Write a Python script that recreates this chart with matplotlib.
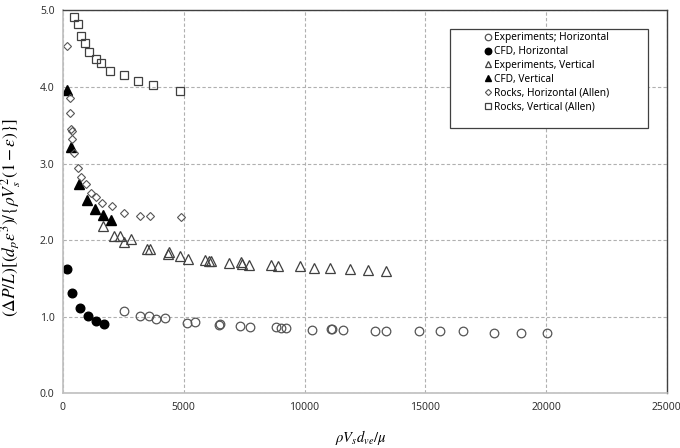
import numpy as np
import matplotlib
matplotlib.use("Agg")
import matplotlib.pyplot as plt
from matplotlib.patches import Rectangle

plt.rcParams['font.family'] = ['Noto Sans', 'DejaVu Sans']
plt.rcParams['mathtext.fontset'] = 'stix'

# Experiments; Horizontal
expH_x = [2526, 3176, 3561, 3838, 4224, 5147, 5466, 6447, 6514, 7342, 7756, 8807, 9039, 9234,
          10311, 11085, 11126, 11582, 12932, 13387, 14754, 15598, 16576, 17860, 18952, 20054]
expH_y = [1.07, 1.015, 1.015, 0.97, 0.99, 0.92, 0.93, 0.89, 0.90, 0.88, 0.86, 0.86, 0.85, 0.855,
          0.83, 0.84, 0.84, 0.83, 0.82, 0.82, 0.815, 0.81, 0.81, 0.79, 0.79, 0.785]

# CFD, Horizontal
cfdH_x = [178, 360, 704, 1023, 1366, 1698]
cfdH_y = [1.62, 1.31, 1.11, 1.01, 0.945, 0.91]

# Experiments, Vertical
expV_x = [1644, 2099, 2348, 2538, 2803, 3466, 3602, 4335, 4377, 4845, 5189, 5867, 6058, 6141,
          6886, 7358, 7412, 7714, 8600, 8915, 9826, 10381, 11069, 11896, 12629, 13387]
expV_y = [2.18, 2.06, 2.05, 1.97, 2.01, 1.88, 1.89, 1.82, 1.84, 1.79, 1.76, 1.74, 1.73, 1.73,
          1.70, 1.71, 1.69, 1.68, 1.68, 1.66, 1.66, 1.63, 1.64, 1.62, 1.61, 1.60]

# CFD, Vertical
cfdV_x = [166, 331, 675, 1006, 1337, 1669, 2000]
cfdV_y = [3.96, 3.21, 2.73, 2.53, 2.41, 2.33, 2.26]

# Rocks, Horizontal (Allen)
rockH_x = [166, 277, 277, 344, 385, 373, 455, 609, 758, 952, 1159, 1366, 1627, 2029, 2538,
           3176, 3615, 4899]
rockH_y = [4.54, 3.85, 3.66, 3.45, 3.42, 3.32, 3.14, 2.94, 2.83, 2.73, 2.62, 2.56, 2.49, 2.44,
           2.36, 2.32, 2.31, 2.30]

# Rocks, Vertical (Allen)
rockV_x = [455, 609, 758, 899, 1089, 1354, 1586, 1946, 2538, 3118, 3714, 4832]
rockV_y = [4.91, 4.82, 4.67, 4.57, 4.45, 4.36, 4.31, 4.21, 4.15, 4.08, 4.03, 3.95]

fig = plt.figure(figsize=(6.8, 4.48), dpi=100)
ax = fig.add_axes([0.0926, 0.122, 0.888, 0.855])

ec = '#404040'
ax.plot(expH_x, expH_y, 'o', ms=6.2, mfc='none', mec='#555555', mew=0.9, ls='none',
        label='Experiments; Horizontal')
ax.plot(cfdH_x, cfdH_y, 'o', ms=6.2, mfc='black', mec='black', ls='none',
        label='CFD, Horizontal')
ax.plot(expV_x, expV_y, '^', ms=6.5, mfc='none', mec=ec, mew=0.9, ls='none',
        label='Experiments, Vertical')
ax.plot(cfdV_x, cfdV_y, '^', ms=6.5, mfc='black', mec='black', ls='none',
        label='CFD, Vertical')
ax.plot(rockH_x, rockH_y, 'D', ms=4.2, mfc='none', mec='#555555', mew=0.8, ls='none',
        label='Rocks, Horizontal (Allen)')
ax.plot(rockV_x, rockV_y, 's', ms=6.2, mfc='none', mec=ec, mew=0.9, ls='none',
        label='Rocks, Vertical (Allen)')

ax.set_xlim(0, 25000)
ax.set_ylim(0, 5)
ax.set_xticks(np.arange(0, 25001, 5000))
ax.set_yticks(np.arange(0, 5.01, 1.0))
ax.set_yticklabels(['%.1f' % v for v in np.arange(0, 5.01, 1.0)])
ax.tick_params(length=0, labelsize=7.5, colors='#333333', pad=6)
ax.grid(True, ls=(0, (3, 2)), color='#b0b0b0', lw=0.8)
ax.set_axisbelow(True)

for s in ['left', 'bottom']:
    ax.spines[s].set_color('#bfbfbf')
    ax.spines[s].set_linewidth(1.2)
for s in ['top', 'right']:
    ax.spines[s].set_color('#404040')
    ax.spines[s].set_linewidth(1.0)

ax.set_xlabel(r'$\rho V_s d_{ve}/\mu$', fontsize=10.5)
ax.xaxis.set_label_coords(0.493, -0.09)
ax.set_ylabel(r'$(\Delta P/L)[(d_p\varepsilon^3)/\{\rho V_s^2(1-\varepsilon)\}]$',
              fontsize=12.5)
ax.yaxis.set_label_coords(-0.066, 0.458)

# legend box (frame drawn separately, entries sit inside it)
ax.add_patch(Rectangle((0.641, 0.693), 0.328, 0.259, transform=ax.transAxes,
                       facecolor='white', edgecolor='#404040', lw=0.9, zorder=4))
leg = ax.legend(loc='upper left', bbox_to_anchor=(0.692, 0.953), fontsize=7.3,
                frameon=False, borderpad=0.4, labelspacing=0.27, handlelength=0.6,
                handletextpad=0.3, markerscale=0.75, borderaxespad=0)
leg.set_zorder(5)

fig.savefig('out.png', dpi=100)
